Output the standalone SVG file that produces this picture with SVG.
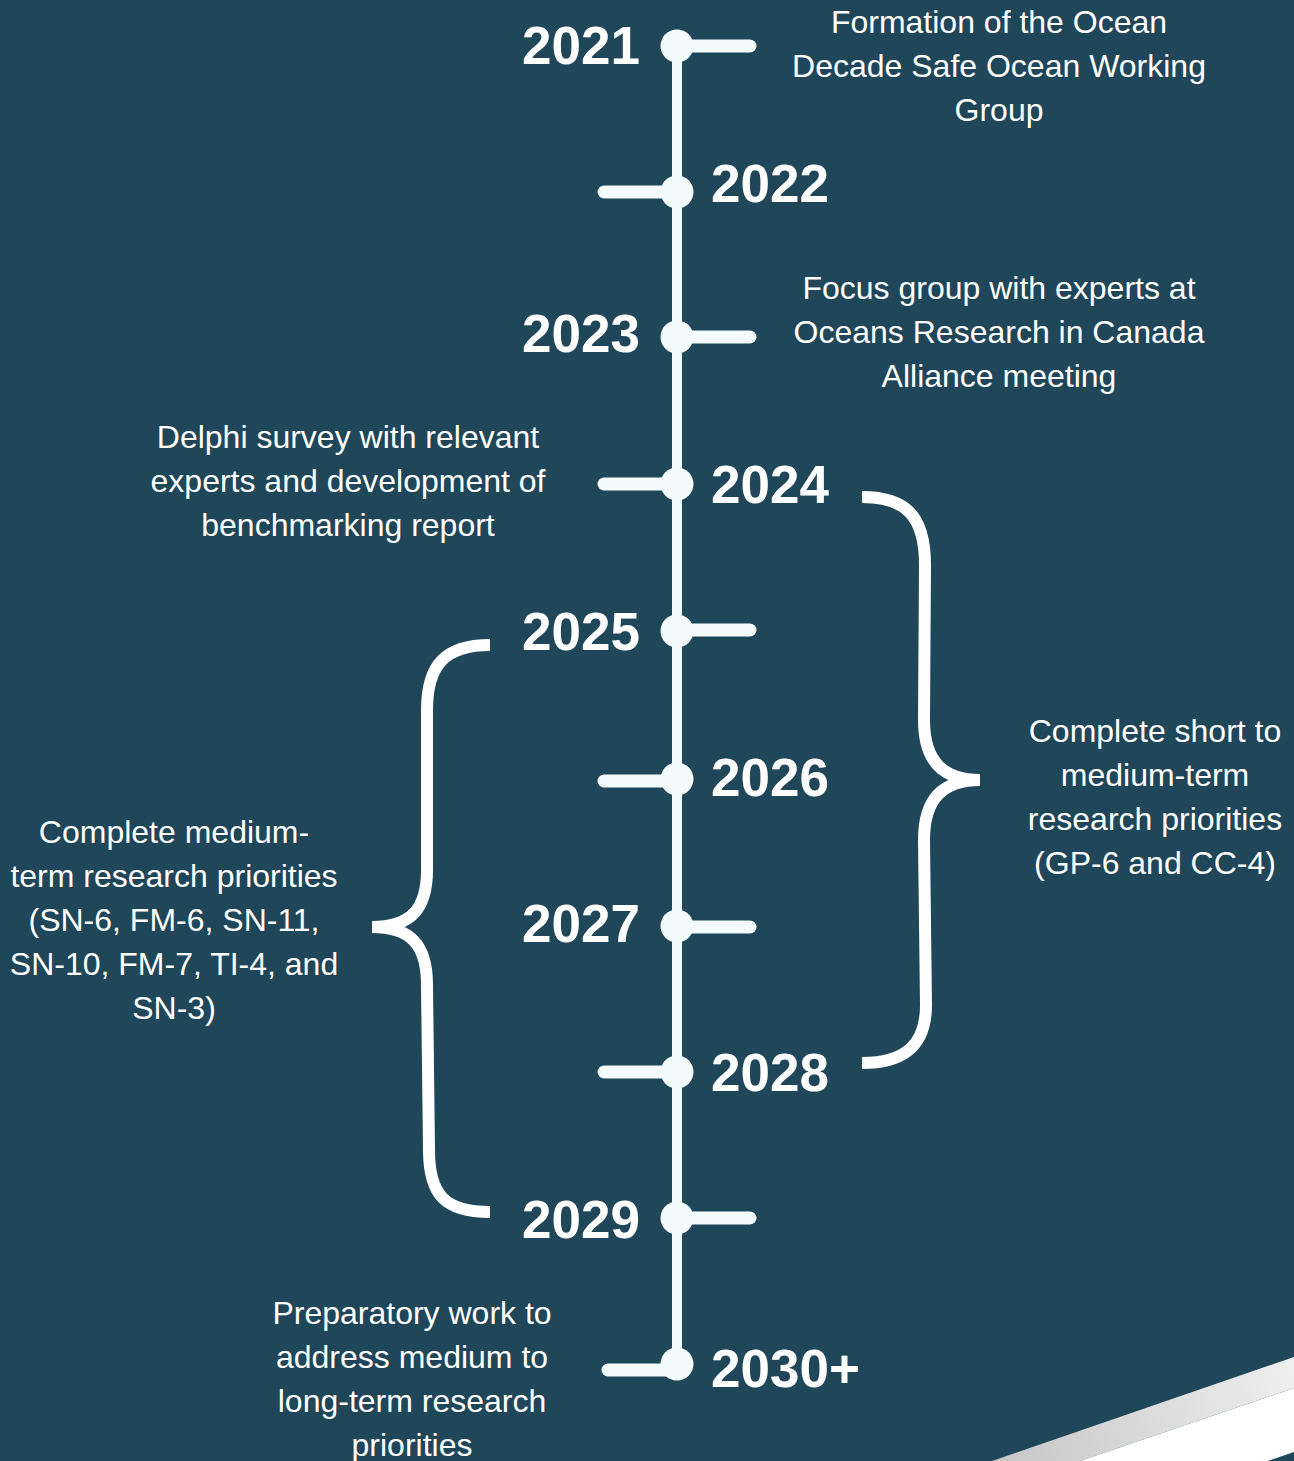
<svg xmlns="http://www.w3.org/2000/svg" width="1294" height="1461" viewBox="0 0 1294 1461">
<defs>
<linearGradient id="stripe" x1="992" y1="1461" x2="1294" y2="1357" gradientUnits="userSpaceOnUse">
<stop offset="0" stop-color="#c6c6c6"/>
<stop offset="1" stop-color="#efefef"/>
</linearGradient>
<style>
.year{font-family:"Liberation Sans",Arial,sans-serif;font-weight:bold;font-size:53px;fill:#ffffff}
.desc{font-family:"Liberation Sans",Arial,sans-serif;font-size:32px;fill:#ffffff;text-anchor:middle}
.tick{stroke:#f3fbfd;stroke-width:13;stroke-linecap:round;fill:none}
.dot{fill:#f3fbfd}
.brace{stroke:#ffffff;stroke-width:12;fill:none;stroke-linecap:butt}
</style>
</defs>
<rect width="1294" height="1461" fill="#1f4659"/>
<polygon points="992,1461 1294,1357 1294,1388 1080,1461" fill="url(#stripe)"/>
<polygon points="1080,1461 1294,1388 1294,1452 1268,1461" fill="#ffffff"/>

<g id="connectors">
<line x1="677" y1="46" x2="677" y2="1364" stroke="#f3fbfd" stroke-width="10"/>
<line class="tick" x1="677" y1="46" x2="750" y2="46"/>
<line class="tick" x1="604" y1="192" x2="677" y2="192"/>
<line class="tick" x1="677" y1="337" x2="750" y2="337"/>
<line class="tick" x1="604" y1="484" x2="677" y2="484"/>
<line class="tick" x1="677" y1="630" x2="750" y2="630"/>
<line class="tick" x1="604" y1="781" x2="677" y2="781"/>
<line class="tick" x1="677" y1="927" x2="750" y2="927"/>
<line class="tick" x1="604" y1="1072" x2="677" y2="1072"/>
<line class="tick" x1="677" y1="1218" x2="750" y2="1218"/>
<line class="tick" x1="608" y1="1370" x2="677" y2="1370" stroke="#ffffff"/>
<path class="brace" d="M490,645 C445,645 427,665 427,710 L427,870 C427,910 410,927 372,927 M372,927 C410,927 427,944 427,985 L429,1150 C429,1195 445,1212 490,1212"/>
<path class="brace" d="M862,497 C905,497 925,515 925,565 L924,720 C924,763 945,780 980,780 M980,780 C945,780 924,797 924,840 L926,1005 C926,1045 905,1063 862,1063"/>
</g>

<g id="y2021"><circle class="dot" cx="677" cy="46" r="16.5"/><text class="year" x="640" y="64" text-anchor="end">2021</text></g>
<g id="y2022"><circle class="dot" cx="677" cy="192" r="16.5"/><text class="year" x="711" y="202">2022</text></g>
<g id="y2023"><circle class="dot" cx="677" cy="337" r="16.5"/><text class="year" x="640" y="352" text-anchor="end">2023</text></g>
<g id="y2024"><circle class="dot" cx="677" cy="484" r="16.5"/><text class="year" x="711" y="503">2024</text></g>
<g id="y2025"><circle class="dot" cx="677" cy="631" r="16.5"/><text class="year" x="640" y="650" text-anchor="end">2025</text></g>
<g id="y2026"><circle class="dot" cx="677" cy="779" r="16.5"/><text class="year" x="711" y="796">2026</text></g>
<g id="y2027"><circle class="dot" cx="677" cy="926" r="16.5"/><text class="year" x="640" y="942" text-anchor="end">2027</text></g>
<g id="y2028"><circle class="dot" cx="677" cy="1072" r="16.5"/><text class="year" x="711" y="1091">2028</text></g>
<g id="y2029"><circle class="dot" cx="677" cy="1218" r="16.5"/><text class="year" x="640" y="1238" text-anchor="end">2029</text></g>
<g id="y2030"><circle class="dot" cx="677" cy="1364" r="16.5"/><text class="year" x="711" y="1387">2030+</text></g>

<g id="d2021"><text class="desc" x="999" y="33">Formation of the Ocean</text><text class="desc" x="999" y="77">Decade Safe Ocean Working</text><text class="desc" x="999" y="121">Group</text></g>
<g id="d2023"><text class="desc" x="999" y="299">Focus group with experts at</text><text class="desc" x="999" y="343">Oceans Research in Canada</text><text class="desc" x="999" y="387">Alliance meeting</text></g>
<g id="d2024"><text class="desc" x="348" y="448">Delphi survey with relevant</text><text class="desc" x="348" y="492">experts and development of</text><text class="desc" x="348" y="536">benchmarking report</text></g>
<g id="dShort"><text class="desc" x="1155" y="742">Complete short to</text><text class="desc" x="1155" y="786">medium-term</text><text class="desc" x="1155" y="830">research priorities</text><text class="desc" x="1155" y="874">(GP-6 and CC-4)</text></g>
<g id="dMedium"><text class="desc" x="174" y="843">Complete medium-</text><text class="desc" x="174" y="887">term research priorities</text><text class="desc" x="174" y="931">(SN-6, FM-6, SN-11,</text><text class="desc" x="174" y="975">SN-10, FM-7, TI-4, and</text><text class="desc" x="174" y="1019">SN-3)</text></g>
<g id="d2030"><text class="desc" x="412" y="1324">Preparatory work to</text><text class="desc" x="412" y="1368">address medium to</text><text class="desc" x="412" y="1412">long-term research</text><text class="desc" x="412" y="1456">priorities</text></g>
</svg>
